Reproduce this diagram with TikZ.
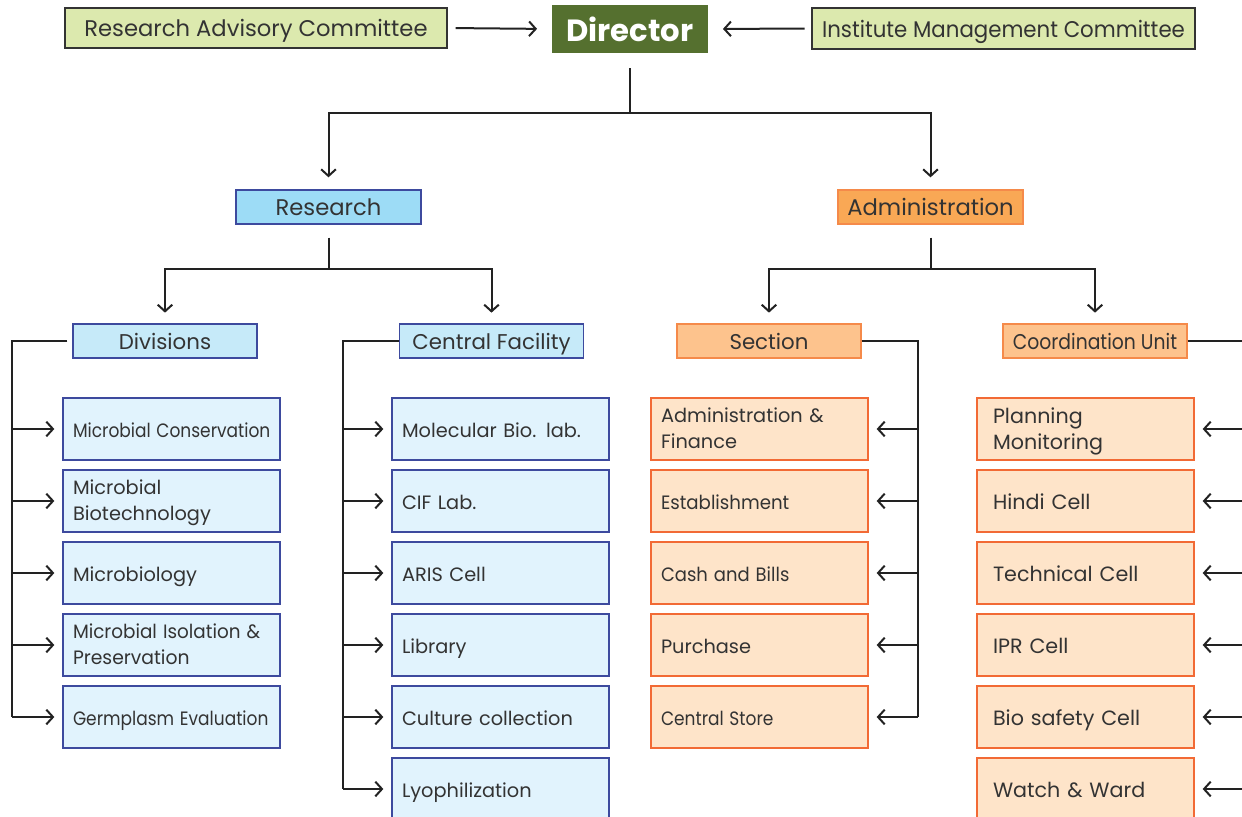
\documentclass[tikz,border=0pt]{standalone}
\usepackage{fontspec}
\setmainfont{Poppins}
\usetikzlibrary{arrows.meta}
\definecolor{txt}{HTML}{333333}
\definecolor{lnc}{HTML}{222222}
\definecolor{topfill}{HTML}{DCE9AE}
\definecolor{dirfill}{HTML}{55702F}
\definecolor{resfill}{HTML}{9DDCF6}
\definecolor{bluebd}{HTML}{3D4A9E}
\definecolor{divfill}{HTML}{C6EAF9}
\definecolor{bitem}{HTML}{E1F3FD}
\definecolor{admfill}{HTML}{F9A855}
\definecolor{orbd}{HTML}{F58A4A}
\definecolor{secfill}{HTML}{FDC38D}
\definecolor{oitem}{HTML}{FEE4C9}
\definecolor{oitbd}{HTML}{F26A35}
\newcommand{\sqz}[2]{\scalebox{#1}[1]{#2}}
\tikzset{
  topbox/.style={draw=txt, fill=topfill, line width=1pt, minimum width=286.5pt, minimum height=30pt, inner sep=0pt, text=txt, font=\fontsize{17}{20}\selectfont, text height=16.9pt, text depth=3.5pt},
  dirbox/.style={fill=dirfill, minimum width=117pt, minimum height=36pt, inner sep=0pt, text=white, font=\fontsize{23}{27}\bfseries\selectfont, text height=22.5pt, text depth=3.5pt},
  lvlone/.style={line width=1pt, minimum width=138.75pt, minimum height=25.5pt, inner sep=0pt, text=txt, font=\fontsize{17}{20}\selectfont, text height=17pt, text depth=3.6pt},
  lvltwo/.style={line width=1pt, minimum width=138pt, minimum height=25.5pt, inner sep=0pt, text=txt, font=\fontsize{16}{19}\selectfont, text height=15.9pt, text depth=3.2pt},
  itembox/.style={line width=1pt, minimum width=162.75pt, minimum height=46.5pt, text width=147.75pt, inner xsep=7.5pt, inner ysep=0pt, align=left, text=txt, font=\fontsize{14.5}{19.5}\selectfont, text height=14.6pt, text depth=2.2pt},
  twoline/.style={text height=13.5pt, text depth=23.1pt},
  bluei/.style={itembox, draw=bluebd, fill=bitem},
  orangei/.style={itembox, draw=oitbd, fill=oitem},
  orangej/.style={itembox, draw=oitbd, fill=oitem, text width=138.75pt, inner xsep=12pt, font=\fontsize{15.5}{19.5}\selectfont, text height=15.2pt, text depth=2.5pt},
  twolinej/.style={text height=14.4pt, text depth=23.4pt},
  conn/.style={draw=lnc, line width=1.5pt},
  arr/.style={conn, -{Straight Barb[length=5pt,width=11pt,line width=1.5pt]}},
}
\begin{document}
\begin{tikzpicture}[x=0.75pt,y=-0.75pt]
\useasboundingbox (0,0) rectangle (1242,817);
\clip (0,0) rectangle (1242,817);
% top row
\node[topbox] (rac) at (256,28) {Research Advisory Committee};
\node[dirbox] (dir) at (630,29) {Director};
\node[topbox, minimum width=287.25pt, minimum height=30.75pt] (imc) at (1003.5,28.5) {\sqz{0.94}{Institute Management Committee}};
\draw[arr, shorten <=6pt, shorten >=11pt] (rac.east) -- (dir.west);
\draw[arr, shorten <=5pt, shorten >=11pt] (imc.west) -- (dir.east);
% level one
\node[lvlone, draw=bluebd, fill=resfill] (res) at (328.5,207) {Research};
\node[lvlone, draw=orbd, fill=admfill] (adm) at (930.5,207) {Administration};
\coordinate (dj) at (630,113);
\draw[conn] ([yshift=-11.25pt]dir.south) -- (dj);
\draw[arr, shorten >=9pt] (dj) -| (res.north);
\draw[arr, shorten >=9pt] (dj) -| (adm.north);
% level two
\node[lvltwo, draw=bluebd, fill=divfill] (div) at (165,341) {Divisions};
\node[lvltwo, draw=bluebd, fill=divfill] (cf) at (491.5,341) {Central Facility};
\node[lvltwo, draw=orbd, fill=secfill] (sec) at (769,341) {Section};
\node[lvltwo, draw=orbd, fill=secfill] (cu) at (1095,341) {\sqz{0.88}{Coordination Unit}};
\coordinate (rj) at (328.5,269);
\coordinate (aj) at (930.5,269);
\draw[conn] ([yshift=-9.75pt]res.south) -- (rj);
\draw[arr, shorten >=8pt] (rj) -| (div.north);
\draw[arr, shorten >=8pt] (rj) -| (cf.north);
\draw[conn] ([yshift=-9.75pt]adm.south) -- (aj);
\draw[arr, shorten >=8pt] (aj) -| (sec.north);
\draw[arr, shorten >=8pt] (aj) -| (cu.north);
% items column 1
\node[bluei] (d1) at (171.5,429) {\sqz{0.88}{Microbial Conservation}};
\node[bluei, twoline] (d2) at (171.5,501) {Microbial\\Biotechnology};
\node[bluei] (d3) at (171.5,573) {Microbiology};
\node[bluei, twoline] (d4) at (171.5,645) {\sqz{0.95}{Microbial Isolation \&}\\\sqz{0.97}{Preservation}};
\node[bluei] (d5) at (171.5,717) {\sqz{0.88}{Germplasm Evaluation}};
% column 2
\node[bluei] (c1) at (500.5,429) {Molecular Bio. lab.};
\node[bluei] (c2) at (500.5,501) {CIF Lab.};
\node[bluei] (c3) at (500.5,573) {ARIS Cell};
\node[bluei] (c4) at (500.5,645) {Library};
\node[bluei] (c5) at (500.5,717) {Culture collection};
\node[bluei] (c6) at (500.5,789) {Lyophilization};
% column 3
\node[orangei, twoline] (s1) at (759.5,429) {Administration \&\\Finance};
\node[orangei] (s2) at (759.5,501) {\sqz{0.94}{Establishment}};
\node[orangei] (s3) at (759.5,573) {\sqz{0.93}{Cash and Bills}};
\node[orangei] (s4) at (759.5,645) {Purchase};
\node[orangei] (s5) at (759.5,717) {\sqz{0.88}{Central Store}};
% column 4
\node[orangej, twolinej] (u1) at (1085.5,429) {Planning\\Monitoring};
\node[orangej] (u2) at (1085.5,501) {Hindi Cell};
\node[orangej] (u3) at (1085.5,573) {Technical Cell};
\node[orangej] (u4) at (1085.5,645) {IPR Cell};
\node[orangej] (u5) at (1085.5,717) {Bio safety Cell};
\node[orangej] (u6) at (1085.5,789) {Watch \& Ward};
% spines
\coordinate (dsp) at (12,341);
\draw[conn] ([xshift=-3.75pt]div.west) -- (dsp) -- (12,717);
\foreach \n in {d1,d2,d3,d4,d5} \draw[arr, shorten >=6pt] (12,0 |- \n.west) -- (\n.west);
\coordinate (csp) at (343,341);
\draw[conn] (cf.west) -- (csp) -- (343,789);
\foreach \n in {c1,c2,c3,c4,c5,c6} \draw[arr, shorten >=6pt] (343,0 |- \n.west) -- (\n.west);
\coordinate (ssp) at (918,341);
\draw[conn] (sec.east) -- (ssp) -- (918,717);
\foreach \n in {s1,s2,s3,s4,s5} \draw[arr, shorten >=6pt] (918,0 |- \n.east) -- (\n.east);
\coordinate (usp) at (1250,341);
\draw[conn] (cu.east) -- (usp);
\foreach \n in {u1,u2,u3,u4,u5,u6} \draw[arr, shorten >=6pt] (1250,0 |- \n.east) -- (\n.east);
\end{tikzpicture}
\end{document}
